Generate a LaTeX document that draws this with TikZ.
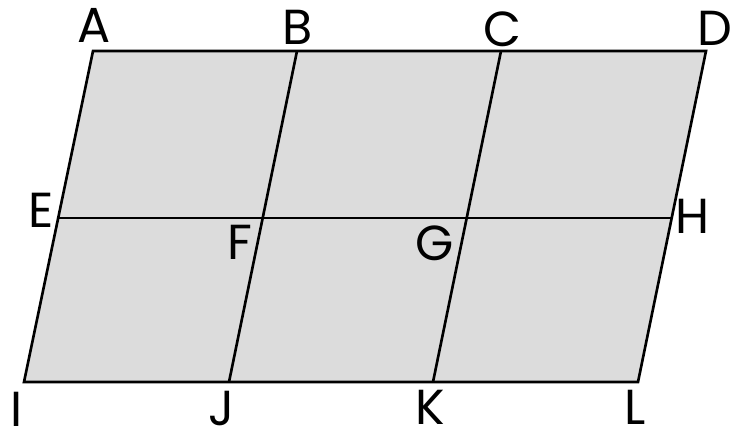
\documentclass[tikz,border=0pt]{standalone}
\usepackage{fontspec}
\setmainfont{Poppins}
\definecolor{panel}{RGB}{220,220,220}
\tikzset{
  edge/.style={line width=1.5pt, line join=miter},
  letter/.style={inner sep=0pt, font=\fontsize{28}{30}\selectfont}
}
\begin{document}
\begin{tikzpicture}
		\useasboundingbox (0,0) rectangle (14.62,8.64);

		 	\coordinate (A) at (1.86, 7.62);
		 	\coordinate (B) at (5.94, 7.62);
		 	\coordinate (C) at (10.02, 7.62);
		 	\coordinate (D) at (14.12, 7.62);
		 	\coordinate (E) at (1.16, 4.28);
		 	\coordinate (F) at (5.28, 4.28);
		 	\coordinate (G) at (9.34, 4.28);
		 	\coordinate (H) at (13.44, 4.28);
		 	\coordinate (I) at (0.48, 1.00);
		 	\coordinate (J) at (4.58, 1.00);
		 	\coordinate (K) at (8.66, 1.00);
		 	\coordinate (L) at (12.76, 1.00);

		 	\fill[panel] (A) -- (D) -- (L) -- (I) -- cycle;

		 	\draw[edge] (A) -- (D) -- (L) -- (I) -- cycle;
		 		\draw[edge] (E) -- (H);
		 		\draw[edge] (B) -- (J);
		 		\draw[edge] (C) -- (K);

			 \node[letter] (lA) at (1.88, 8.13){A};
			 \node[letter] (lB) at (5.96, 8.10){B};
			 \node[letter] (lC) at (10.04, 8.06){C};
			 \node[letter] (lD) at (14.30, 8.07){D};
			 \node[letter] (lE) at (0.82, 4.44){E};
			 \node[letter] (lF) at (4.80, 3.79){F};
			 \node[letter] (lG) at (8.70, 3.77){G};
			 \node[letter] (lH) at (13.86, 4.32){H};
			 \node[letter] (lI) at (0.34, 0.46){I};
			 \node[letter] (lJ) at (4.44, 0.47){J};
			 \node[letter] (lK) at (8.60, 0.49){K};
			 \node[letter] (lL) at (12.70, 0.49){L};

		\end{tikzpicture}
\end{document}
